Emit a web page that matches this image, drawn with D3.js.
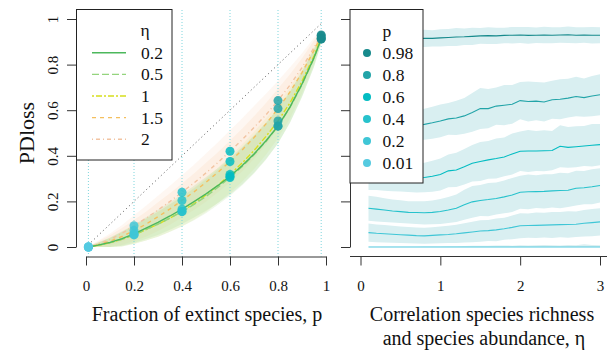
<!DOCTYPE html>
<html><head><meta charset="utf-8">
<script src="https://cdn.jsdelivr.net/npm/d3@7"></script>
<style>body{margin:0;background:#fff}svg{display:block}</style>
</head><body><svg id="c" width="607" height="352"></svg>
<script>
// ---------- DATA ----------
// Left panel: PDloss vs fraction of extinct species p, for several eta
const pGrid = [0.01,0.05,0.1,0.15,0.2,0.25,0.3,0.35,0.4,0.45,0.5,0.55,0.6,0.65,0.7,0.75,0.8,0.85,0.9,0.95,0.98];
const etaLevels = ["0.2","0.5","1","1.5","2"];
const pdEta02 = [0,0.008,0.02,0.037,0.058,0.083,0.108,0.136,0.166,0.199,0.233,0.27,0.31,0.356,0.408,0.466,0.53,0.615,0.715,0.83,0.912];
const pdEta05 = [0,0.007,0.018,0.034,0.054,0.077,0.1,0.127,0.155,0.187,0.222,0.262,0.305,0.352,0.404,0.463,0.531,0.612,0.712,0.828,0.913];
const pdEta1  = [0,0.007,0.018,0.034,0.053,0.076,0.1,0.127,0.156,0.19,0.228,0.271,0.318,0.368,0.423,0.485,0.553,0.632,0.727,0.838,0.917];
const pdEta15 = [0,0.01,0.025,0.046,0.072,0.1,0.133,0.167,0.204,0.242,0.284,0.328,0.375,0.425,0.48,0.54,0.607,0.68,0.765,0.862,0.926];
const pdEta2  = [0,0.013,0.033,0.06,0.093,0.126,0.162,0.2,0.24,0.281,0.325,0.371,0.42,0.47,0.524,0.58,0.642,0.71,0.787,0.874,0.93];
// half-width of the shaded uncertainty band (left panel)
const sprGreen  = [0.002,0.012,0.022,0.032,0.04,0.048,0.055,0.06,0.065,0.07,0.074,0.077,0.08,0.082,0.082,0.08,0.076,0.068,0.055,0.038,0.02];
const sprOrange = [0.002,0.014,0.026,0.037,0.046,0.055,0.063,0.069,0.075,0.08,0.085,0.088,0.092,0.094,0.094,0.092,0.087,0.078,0.063,0.044,0.023];
const pMarks = [0.01,0.2,0.4,0.6,0.8,0.98];
const diagP = [0.01,0.98];

// Right panel: PDloss vs eta, for several p
const etaGrid = [0.1,0.2,0.3,0.4,0.5,0.6,0.7,0.8,0.9,1.0,1.1,1.2,1.3,1.4,1.5,1.6,1.7,1.8,1.9,2.0,2.1,2.2,2.3,2.4,2.5,2.6,2.7,2.8,2.9,3.0];
const pLevels = ["0.98","0.8","0.6","0.4","0.2","0.01"];
const m98 = [0.912,0.912,0.913,0.913,0.913,0.914,0.914,0.915,0.915,0.917,0.919,0.921,0.922,0.924,0.926,0.927,0.926,0.928,0.929,0.930,0.928,0.929,0.930,0.929,0.930,0.931,0.929,0.930,0.929,0.929];
const m80 = [0.53,0.53,0.53,0.53,0.531,0.532,0.534,0.538,0.545,0.553,0.562,0.566,0.575,0.59,0.607,0.607,0.618,0.622,0.626,0.642,0.638,0.64,0.636,0.646,0.648,0.653,0.66,0.655,0.662,0.668];
const m60 = [0.31,0.31,0.308,0.306,0.305,0.304,0.303,0.305,0.31,0.318,0.334,0.338,0.352,0.367,0.375,0.382,0.388,0.395,0.408,0.42,0.421,0.421,0.422,0.423,0.442,0.437,0.44,0.443,0.446,0.449];
const m40 = [0.17,0.166,0.162,0.158,0.155,0.152,0.151,0.15,0.152,0.156,0.162,0.17,0.185,0.198,0.204,0.208,0.213,0.22,0.228,0.24,0.242,0.243,0.244,0.246,0.248,0.249,0.258,0.26,0.264,0.27];
const m20 = [0.063,0.06,0.058,0.056,0.054,0.052,0.05,0.049,0.051,0.053,0.055,0.058,0.062,0.066,0.07,0.072,0.075,0.08,0.086,0.093,0.094,0.095,0.096,0.097,0.098,0.099,0.1,0.104,0.107,0.11];
const m01 = [0,0,0,0,0,0,0,0,0,0,0,0,0,0,0,0,0,0,0,0,0,0,0,0,0,0,0,0,0,0];
const h98 = [0.038,0.038,0.039,0.038,0.04,0.039,0.038,0.038,0.036,0.038,0.037,0.039,0.036,0.038,0.035,0.037,0.036,0.034,0.036,0.035,0.037,0.034,0.036,0.035,0.034,0.036,0.035,0.034,0.036,0.035];
const h80 = [0.062,0.063,0.064,0.064,0.065,0.066,0.066,0.068,0.07,0.072,0.07,0.075,0.078,0.085,0.09,0.086,0.082,0.088,0.085,0.082,0.088,0.084,0.086,0.083,0.088,0.085,0.087,0.084,0.088,0.09];
const h60 = [0.06,0.06,0.061,0.062,0.062,0.063,0.064,0.065,0.068,0.07,0.072,0.075,0.078,0.08,0.085,0.083,0.088,0.085,0.09,0.087,0.092,0.088,0.09,0.086,0.092,0.089,0.09,0.088,0.093,0.09];
const h40 = [0.055,0.054,0.052,0.05,0.05,0.049,0.05,0.051,0.052,0.055,0.057,0.06,0.066,0.07,0.068,0.073,0.07,0.072,0.075,0.072,0.076,0.072,0.075,0.073,0.078,0.074,0.076,0.073,0.077,0.075];
const h20 = [0.04,0.039,0.038,0.037,0.036,0.036,0.035,0.035,0.036,0.037,0.038,0.04,0.042,0.045,0.047,0.046,0.05,0.048,0.052,0.055,0.053,0.056,0.054,0.057,0.055,0.058,0.056,0.058,0.06,0.06];
const h01 = [0.001,0.001,0.001,0.001,0.001,0.001,0.001,0.002,0.002,0.002,0.003,0.003,0.004,0.005,0.006,0.006,0.007,0.007,0.006,0.008,0.007,0.008,0.009,0.008,0.007,0.009,0.008,0.012,0.009,0.008];

const yTicks = [0,0.2,0.4,0.6,0.8,1];
const xTicksL = [0,0.2,0.4,0.6,0.8,1];
const xTicksR = [0,1,2,3];

// ---------- STYLE ----------
const FONT = "'Liberation Serif','Times New Roman',serif";
const etaColors = ["#4cb85c","#94d47e","#d6de1e","#f4bf5e","#f2c4a2"];
const etaDash = [null,"7,3","2,2,6,2","4,4","1,3,4,3"];
const bandFill = ["#a6db90","#b4e09a","#e2eaa0","#f9d6b0","#f9dbc6"];
const pColors = ["#178a8c","#22a4a8","#03bcc2","#27c2cc","#3fc6d6","#55cae0"];

const leftSeries = [pdEta02,pdEta05,pdEta1,pdEta15,pdEta2].map((v,i)=>({
  name:etaLevels[i], v, spr: i<3 ? sprGreen : sprOrange, color:etaColors[i], dash:etaDash[i], fill:bandFill[i]}));
const rightSeries = [[m98,h98],[m80,h80],[m60,h60],[m40,h40],[m20,h20],[m01,h01]].map((a,i)=>({
  name:pLevels[i], m:a[0], h:a[1], color:pColors[i]}));

const svg = d3.select("#c");
svg.append("rect").attr("width",607).attr("height",352).attr("fill","#fff");

const xL = d3.scaleLinear().domain([0,1]).range([86,326]);
const yS = d3.scaleLinear().domain([0,1]).range([247,19]);
const xR = d3.scaleLinear().domain([0,3]).range([360.5,600]);
const plotTop = 10, plotBottom = 256.5;

// ---------- LEFT PANEL ----------
const gL = svg.append("g");
leftSeries.slice().reverse().forEach(s=>{
  const area = d3.area().x((d,i)=>xL(pGrid[i]))
    .y0((d,i)=>yS(Math.max(0,d - s.spr[i]))).y1((d,i)=>yS(d + s.spr[i]));
  gL.append("path").datum(s.v).attr("d",area).attr("fill",s.fill).attr("fill-opacity",0.22);
});
// vertical dotted guides
gL.selectAll("line.vg").data(pMarks).join("line").attr("class","vg")
  .attr("x1",d=>xL(d)).attr("x2",d=>xL(d)).attr("y1",plotTop).attr("y2",plotBottom)
  .attr("stroke","#7fd6dd").attr("stroke-width",1).attr("stroke-dasharray","1,2");
// diagonal reference
gL.append("path").datum(diagP).attr("d",d3.line().x(d=>xL(d)).y(d=>yS(d)))
  .attr("stroke","#555").attr("stroke-width",1).attr("stroke-dasharray","1,3").attr("fill","none");
// curves
leftSeries.slice().reverse().forEach(s=>{
  gL.append("path").datum(s.v).attr("d",d3.line().x((d,i)=>xL(pGrid[i])).y(d=>yS(d)))
    .attr("fill","none").attr("stroke",s.color).attr("stroke-width",1.4)
    .attr("stroke-dasharray",s.dash);
});
// dots at marked p values
pMarks.forEach((p,k)=>{
  const idx = pGrid.indexOf(p);
  const col = pColors[pColors.length-1-k];
  leftSeries.forEach(s=>{
    gL.append("circle").attr("cx",xL(p)).attr("cy",yS(s.v[idx])).attr("r",4.5)
      .attr("fill",col).attr("fill-opacity",0.85);
  });
});

// ---------- RIGHT PANEL ----------
const gR = svg.append("g");
rightSeries.forEach(s=>{
  const area = d3.area().x((d,i)=>xR(etaGrid[i]))
    .y0((d,i)=>yS(Math.max(0,d - s.h[i]))).y1((d,i)=>yS(d + s.h[i]));
  gR.append("path").datum(s.m).attr("d",area).attr("fill","#d9eff1");
});
rightSeries.forEach(s=>{
  gR.append("path").datum(s.m).attr("d",d3.line().x((d,i)=>xR(etaGrid[i])).y(d=>yS(d)))
    .attr("fill","none").attr("stroke",s.color).attr("stroke-width",1.1);
});

// ---------- AXES ----------
function styleAxis(g){
  g.attr("font-family",FONT).attr("font-size",15);
  g.selectAll("path,line").attr("stroke","#333").attr("stroke-width",1);
  g.selectAll("text").attr("fill","#111");
}
const ayL = svg.append("g").attr("transform","translate(76,0)")
  .call(d3.axisLeft(yS).tickValues(yTicks).tickSize(9).tickSizeOuter(0).tickFormat(d3.format("~g")));
styleAxis(ayL);
ayL.selectAll("text").attr("x",0).attr("dy",0).attr("text-anchor","middle")
  .attr("transform","translate(-18,0) rotate(-90)");

const ayR = svg.append("g").attr("transform","translate(350,0)")
  .call(d3.axisLeft(yS).tickValues(yTicks).tickSize(9).tickSizeOuter(0).tickFormat(""));
styleAxis(ayR);

const axL = svg.append("g").attr("transform",`translate(0,${plotBottom})`)
  .call(d3.axisBottom(xL).tickValues(xTicksL).tickSize(9).tickSizeOuter(0).tickFormat(d3.format("~g")));
styleAxis(axL);
axL.selectAll("text").attr("y",34).attr("dy",0);

const axR = svg.append("g").attr("transform",`translate(0,${plotBottom})`)
  .call(d3.axisBottom(xR).tickValues(xTicksR).tickSize(9).tickSizeOuter(0).tickFormat(d3.format("d")));
styleAxis(axR);
axR.selectAll("text").attr("y",34).attr("dy",0);
axR.select(".domain").remove();
axR.append("line").attr("x1",350).attr("x2",607).attr("y1",0).attr("y2",0)
  .attr("stroke","#333").attr("stroke-width",1);

// ---------- TITLES ----------
const T = (x,y,txt,size,anchor)=>svg.append("text").attr("x",x).attr("y",y).text(txt)
  .attr("font-family",FONT).attr("font-size",size).attr("text-anchor",anchor||"middle").attr("fill","#111");
T(207,321,"Fraction of extinct species, p",20);
T(482,321,"Correlation species richness",20);
T(484,345,"and species abundance, η",20);
svg.append("text").attr("transform","translate(34,133) rotate(-90)").text("PDloss")
  .attr("font-family",FONT).attr("font-size",22).attr("text-anchor","middle").attr("fill","#111");

// ---------- LEGENDS ----------
const lg1 = svg.append("g");
lg1.append("rect").attr("x",76.5).attr("y",9.5).attr("width",95.5).attr("height",150.5)
  .attr("fill","#fff").attr("stroke","#222").attr("stroke-width",1);
lg1.append("text").attr("x",145).attr("y",36).text("η").attr("font-family",FONT)
  .attr("font-size",17.5).attr("text-anchor","middle").attr("fill","#111");
const ly1 = d3.scaleLinear().domain([0,4]).range([52.7,139.3]);
leftSeries.forEach((s,i)=>{
  lg1.append("line").attr("x1",92).attr("x2",126).attr("y1",ly1(i)).attr("y2",ly1(i))
    .attr("stroke",s.color).attr("stroke-width",1.4).attr("stroke-dasharray",s.dash);
  lg1.append("text").attr("x",141).attr("y",ly1(i)+6).text(s.name).attr("font-family",FONT)
    .attr("font-size",17.5).attr("fill","#111");
});

const lg2 = svg.append("g");
lg2.append("rect").attr("x",350).attr("y",9.5).attr("width",73).attr("height",173.5)
  .attr("fill","#fff").attr("stroke","#222").attr("stroke-width",1);
lg2.append("text").attr("x",382.5).attr("y",37).text("p").attr("font-family",FONT)
  .attr("font-size",17.5).attr("fill","#111");
const ly2 = d3.scaleLinear().domain([0,5]).range([53,163]);
rightSeries.forEach((s,i)=>{
  lg2.append("circle").attr("cx",367).attr("cy",ly2(i)).attr("r",4).attr("fill",s.color);
  lg2.append("text").attr("x",382.5).attr("y",ly2(i)+6).text(s.name).attr("font-family",FONT)
    .attr("font-size",17.5).attr("fill","#111");
});
</script></body></html>
